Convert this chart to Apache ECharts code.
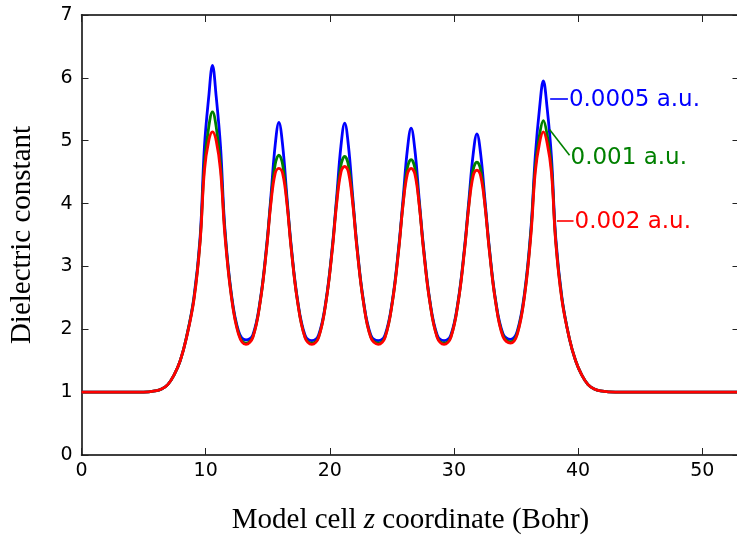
<!DOCTYPE html>
<html>
<head>
<meta charset="utf-8">
<script src="https://cdn.jsdelivr.net/npm/echarts@6/dist/echarts.min.js"></script>
<style>
html,body{margin:0;padding:0;background:#fff;}
#main{width:737px;height:537px;}
</style>
</head>
<body>
<div id="main"></div>
<script>
// z coordinate (Bohr), shared by the three curves
var zCoord = [
    0, 4, 5, 5.95, 6.45, 6.95, 7.45, 7.95, 8.45, 9.05,
    9.55, 9.9, 10.25, 10.55, 10.85, 11.2, 11.55, 12.05, 12.65, 13.25,
    13.8, 14.4, 14.9, 15.25, 15.6, 15.9, 16.2, 16.55, 16.9, 17.4, 18.0, 18.55,
    19.1, 19.7, 20.2, 20.55, 20.9, 21.2, 21.5, 21.85, 22.2, 22.7, 23.3, 23.9,
    24.45, 25.05, 25.55, 25.9, 26.25, 26.55, 26.85, 27.2, 27.55, 28.05, 28.65, 29.2,
    29.75, 30.35, 30.85, 31.2, 31.55, 31.85, 32.15, 32.5, 32.85, 33.35, 33.95, 34.55,
    35.1, 35.7, 36.2, 36.55, 36.9, 37.2, 37.5, 37.85, 38.2, 38.7,
    39.3, 39.8, 40.3, 40.8, 41.3, 41.8, 43, 53
];

// dielectric constant, 0.0005 a.u.
var eps0005 = [
    1, 1, 1.0, 1.02, 1.05, 1.12, 1.27, 1.5, 1.87, 2.5,
    3.45, 4.9, 5.7, 6.2, 5.7, 4.9, 3.6, 2.6, 1.97, 1.83,
    1.91, 2.47, 3.31, 4.1, 4.93, 5.29, 4.93, 4.1, 3.31, 2.47, 1.91, 1.82,
    1.91, 2.47, 3.31, 4.1, 4.92, 5.28, 4.92, 4.1, 3.31, 2.47, 1.91, 1.82,
    1.91, 2.47, 3.31, 4.07, 4.86, 5.2, 4.86, 4.07, 3.31, 2.47, 1.91, 1.82,
    1.91, 2.47, 3.3, 4.05, 4.79, 5.11, 4.79, 4.05, 3.3, 2.47, 1.93, 1.84,
    1.97, 2.6, 3.6, 4.75, 5.53, 5.95, 5.53, 4.75, 3.45, 2.5,
    1.85, 1.5, 1.27, 1.12, 1.05, 1.02, 1.0, 1.0
];

// 0.001 a.u.
var eps001 = [
    1, 1, 1.0, 1.02, 1.05, 1.12, 1.27, 1.5, 1.87, 2.48,
    3.4, 4.62, 5.22, 5.46, 5.22, 4.62, 3.55, 2.57, 1.94, 1.78,
    1.88, 2.45, 3.28, 4.03, 4.62, 4.77, 4.62, 4.03, 3.28, 2.45, 1.88, 1.78,
    1.88, 2.45, 3.28, 4.03, 4.61, 4.75, 4.61, 4.03, 3.28, 2.45, 1.88, 1.78,
    1.88, 2.45, 3.28, 4.0, 4.57, 4.7, 4.57, 4.0, 3.28, 2.45, 1.88, 1.78,
    1.88, 2.45, 3.27, 3.98, 4.54, 4.66, 4.54, 3.98, 3.27, 2.45, 1.9, 1.8,
    1.94, 2.57, 3.55, 4.58, 5.1, 5.32, 5.1, 4.58, 3.4, 2.48,
    1.85, 1.5, 1.27, 1.12, 1.05, 1.02, 1.0, 1.0
];

// 0.002 a.u.
var eps002 = [
    1, 1, 1.0, 1.02, 1.05, 1.12, 1.27, 1.5, 1.86, 2.46,
    3.38, 4.52, 5.0, 5.14, 5.0, 4.52, 3.5, 2.55, 1.92, 1.76,
    1.87, 2.44, 3.26, 3.99, 4.48, 4.56, 4.48, 3.99, 3.26, 2.44, 1.87, 1.76,
    1.87, 2.44, 3.26, 3.99, 4.5, 4.59, 4.5, 3.99, 3.26, 2.44, 1.87, 1.76,
    1.87, 2.44, 3.26, 3.98, 4.47, 4.56, 4.47, 3.98, 3.26, 2.44, 1.87, 1.76,
    1.87, 2.44, 3.25, 3.96, 4.44, 4.53, 4.44, 3.96, 3.25, 2.44, 1.88, 1.78,
    1.92, 2.55, 3.5, 4.5, 4.97, 5.14, 4.97, 4.5, 3.38, 2.46,
    1.85, 1.5, 1.27, 1.12, 1.05, 1.02, 1.0, 1.0
];

var seriesNames = ['0.0005 a.u.', '0.001 a.u.', '0.002 a.u.'];
var seriesColors = ['#0000ff', '#008000', '#ff0000'];
// label leader lines, in data coordinates [z, eps]
var leaderFrom = [[37.75, 5.66], [37.7, 5.18], [38.29, 3.72]];
var leaderTo = [[39.18, 5.66], [39.31, 4.77], [39.63, 3.72]];
var labelShift = [[0, 1], [0, 3], [0, 1]];

var xTicks = {min: 0, max: 53, interval: 10};
var yTicks = {min: 0, max: 7, interval: 1};

function pairs(ys){
    var out = [];
    for(var i = 0; i < zCoord.length; i++){
        out.push([zCoord[i], ys[i]]);
    }
    return out;
}

var tickFont = {fontFamily: 'DejaVu Sans', fontSize: 19, color: '#000'};
var spine = {show: true, onZero: false, lineStyle: {color: '#000', width: 1.5}};
var ticksIn = {show: true, inside: true, length: 7, lineStyle: {color: '#222', width: 1}};
var titleFont = {fontFamily: 'Liberation Serif', fontSize: 29, color: '#000'};

var allData = [eps0005, eps001, eps002];
var series = [];
for(var k = 0; k < allData.length; k++){
    series.push({
        name: seriesNames[k],
        type: 'line',
        data: pairs(allData[k]),
        smooth: 0.4,
        showSymbol: false,
        symbol: 'none',
        lineStyle: {color: seriesColors[k], width: 2.8},
        itemStyle: {color: seriesColors[k]},
        z: 2 + k,
        emphasis: {disabled: true},
        markLine: {
            silent: true,
            symbol: ['none', 'none'],
            label: {show: false},
            lineStyle: {color: seriesColors[k], width: 1.6, type: 'solid'},
            emphasis: {disabled: true},
            data: [[{coord: leaderFrom[k]}, {coord: leaderTo[k]}]]
        },
        markPoint: {
            silent: true,
            symbol: 'circle',
            symbolSize: 0,
            label: {
                show: true,
                position: 'right',
                distance: 1,
                offset: labelShift[k],
                formatter: seriesNames[k],
                fontFamily: 'DejaVu Sans',
                fontSize: 23,
                color: seriesColors[k]
            },
            data: [{coord: leaderTo[k]}]
        }
    });
}

var option = {
    animation: false,
    backgroundColor: '#fff',
    grid: {left: 81.5, right: -2.5, top: 15, bottom: 82, containLabel: false, outerBoundsMode: 'none'},
    xAxis: [{
        type: 'value',
        position: 'bottom',
        min: xTicks.min, max: xTicks.max, interval: xTicks.interval,
        name: 'Model cell {it|z} coordinate (Bohr)',
        nameLocation: 'middle',
        nameGap: 51,
        nameTextStyle: Object.assign({
            rich: {it: {fontFamily: 'Liberation Serif', fontSize: 29, fontStyle: 'italic', color: '#000'}}
        }, titleFont),
        axisLine: spine,
        axisTick: ticksIn,
        axisLabel: Object.assign({margin: 7, showMaxLabel: false}, tickFont),
        splitLine: {show: false}
    }, {
        type: 'value',
        position: 'top',
        min: xTicks.min, max: xTicks.max, interval: xTicks.interval,
        axisLine: spine,
        axisTick: ticksIn,
        axisLabel: {show: false},
        splitLine: {show: false}
    }],
    yAxis: [{
        type: 'value',
        position: 'left',
        min: yTicks.min, max: yTicks.max, interval: yTicks.interval,
        name: 'Dielectric constant',
        nameLocation: 'middle',
        nameGap: 45,
        nameTextStyle: titleFont,
        axisLine: spine,
        axisTick: ticksIn,
        axisLabel: Object.assign({margin: 9}, tickFont),
        splitLine: {show: false}
    }, {
        type: 'value',
        position: 'right',
        min: yTicks.min, max: yTicks.max, interval: yTicks.interval,
        axisLine: spine,
        axisTick: ticksIn,
        axisLabel: {show: false},
        splitLine: {show: false}
    }],
    series: series
};

var myCharts = echarts.init(document.getElementById('main'), null, {renderer: 'canvas'});
myCharts.setOption(option);
</script>
</body>
</html>
